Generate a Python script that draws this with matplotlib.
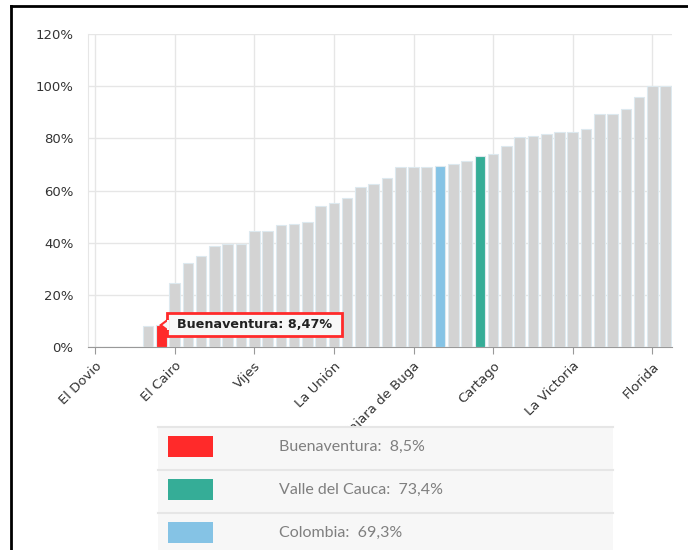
import numpy as np
import matplotlib.pyplot as plt
from matplotlib.patches import Rectangle, Polygon
from matplotlib.lines import Line2D

# values (%) per municipality, sorted ascending
values = [0, 0, 0, 0, 8.0, 8.47, 24.7, 32.3, 34.7, 38.7, 39.4, 39.4,
          44.5, 44.5, 46.6, 47.1, 47.9, 54.1, 55.3, 57.2, 61.3, 62.5,
          64.9, 68.9, 69.2, 69.2, 69.3, 70.0, 71.3, 73.4, 74.0, 77.2,
          80.4, 80.8, 81.5, 82.3, 82.3, 83.6, 89.3, 89.3, 91.1, 95.9,
          100.0, 100.0]
tick_pos = [0, 6, 12, 18, 24, 30, 36, 42]
tick_labels = ['El Dovio', 'El Cairo', 'Vijes', 'La Unión',
               'Guadalajara de Buga', 'Cartago', 'La Victoria', 'Florida']
highlight = {5: '#ff2a2a', 29: '#35ad97', 26: '#85c3e5'}
legend_labels = ['Buenaventura:  8,5%', 'Valle del Cauca:  73,4%', 'Colombia:  69,3%']
legend_colors = ['#ff2a2a', '#35ad97', '#85c3e5']

W, H = 688, 550
fig = plt.figure(figsize=(W / 100, H / 100), dpi=100)
ax = fig.add_axes([88 / W, 1 - 347 / H, (672 - 88) / W, (347 - 34) / H])

x = np.arange(len(values))
colors = [highlight.get(i, '#d3d3d3') for i in x]
ax.bar(x, values, width=0.8, color=colors, edgecolor='#dde9ef', linewidth=0.8, zorder=3)

ax.set_xlim(-0.53, 43.48)
ax.set_ylim(0, 120)
ax.set_yticks(range(0, 121, 20))
ax.set_yticklabels([f'{v}%' for v in range(0, 121, 20)], fontsize=9.5, color='#333333')
ax.set_xticks(tick_pos)
ax.set_xticklabels(tick_labels, rotation=45, ha='right', rotation_mode='anchor',
                   fontsize=9.5, color='#333333')
ax.tick_params(axis='y', length=0, pad=10.5)
ax.tick_params(axis='x', length=5, color='#999999', pad=4)
ax.grid(True, color='#e6e6e6', linewidth=1, zorder=0)
for s in ['top', 'right']:
    ax.spines[s].set_visible(False)
ax.spines['left'].set_color('#e6e6e6')
ax.spines['bottom'].set_color('#999999')

# tooltip
ax.add_patch(Rectangle((5.43, 4.22), 13.18, 8.82, facecolor='#f7f7f7',
                       edgecolor='#ff2a2a', linewidth=2, zorder=6))
ax.add_patch(Polygon([[4.95, 8.4], [5.5, 6.3], [5.5, 10.5]], closed=True,
                     facecolor='#f7f7f7', edgecolor='#ff2a2a', linewidth=1.5, zorder=7))
ax.add_patch(Rectangle((5.42, 6.6), 0.14, 3.6, facecolor='#f7f7f7', edgecolor='none', zorder=8))
ax.text(12.02, 8.63, 'Buenaventura: 8,47%', ha='center', va='center', fontsize=9.2,
        fontweight='bold', color='#222222', zorder=9)

# legend table
for i, (lab, col) in enumerate(zip(legend_labels, legend_colors)):
    top = 427 + i * 43
    fig.patches.append(Rectangle((158 / W, 1 - (top + 42) / H), (613 - 158) / W, 42 / H,
                                 transform=fig.transFigure, facecolor='#f7f7f7',
                                 edgecolor='none'))
    fig.lines.append(Line2D([158 / W, 613 / W], [1 - top / H] * 2, color='#e6e6e6',
                            linewidth=1.5, transform=fig.transFigure))
    fig.patches.append(Rectangle((168 / W, 1 - (top + 30) / H), 45 / W, 21 / H,
                                 transform=fig.transFigure, facecolor=col,
                                 edgecolor='none'))
    fig.text(279 / W, 1 - (top + 20) / H, lab, fontsize=11.5, color='#7f7f7f',
             family='Lato', va='center', ha='left')

# outer frame
fig.lines.append(Line2D([11.5 / W, 11.5 / W], [0, 1 - 6 / H], color='black', linewidth=2,
                        transform=fig.transFigure))
fig.lines.append(Line2D([11.5 / W, 1], [1 - 6 / H] * 2, color='black', linewidth=2,
                        transform=fig.transFigure))

fig.savefig('out.png', dpi=100)
